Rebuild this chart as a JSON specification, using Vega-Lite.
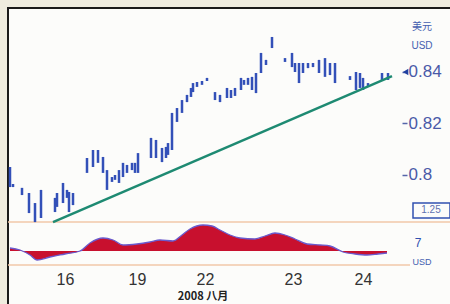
{
  "$schema": "https://vega.github.io/schema/vega-lite/v6.json",
  "width": 443,
  "height": 297,
  "autosize": {"type": "none"},
  "padding": {"left": 8, "top": 8, "right": 0, "bottom": 0},
  "background": "#efecdf",
  "config": {
    "view": {"fill": "#fcfcfa", "stroke": "#1a1a1a", "strokeWidth": 2},
    "font": "Liberation Sans"
  },
  "data": {"values": [{}]},
  "resolve": {"scale": {"y": "independent"}, "axis": {"y": "independent"}},
  "layer": [
    {
      "layer": [
        {
          "mark": {"type": "rule", "color": "#f2c8a8", "strokeWidth": 1.5},
          "encoding": {
            "x": {"datum": 0, "type": "quantitative"},
            "x2": {"datum": 221.5},
            "y": {"datum": 0.78175, "type": "quantitative"}
          }
        },
        {
          "mark": {"type": "rule", "color": "#f2c8a8", "strokeWidth": 1.5},
          "encoding": {
            "x": {"datum": 0, "type": "quantitative"},
            "x2": {"datum": 201},
            "y": {"datum": 0.76505, "type": "quantitative"}
          }
        },
        {
          "data": {"values": [
            {"t": 1, "hi": 0.8031, "lo": 0.7953},
            {"t": 2.5, "hi": 0.7965, "lo": 0.7953},
            {"t": 7, "hi": 0.7950, "lo": 0.7922},
            {"t": 10.5, "hi": 0.7930, "lo": 0.7852},
            {"t": 13.5, "hi": 0.7891, "lo": 0.7817},
            {"t": 16.5, "hi": 0.7942, "lo": 0.7833},
            {"t": 23.5, "hi": 0.7911, "lo": 0.7856},
            {"t": 24.5, "hi": 0.7930, "lo": 0.7876},
            {"t": 27.5, "hi": 0.7969, "lo": 0.7891},
            {"t": 29.5, "hi": 0.7942, "lo": 0.7911},
            {"t": 30.5, "hi": 0.7934, "lo": 0.7856},
            {"t": 32.5, "hi": 0.7930, "lo": 0.7883},
            {"t": 39.5, "hi": 0.8066, "lo": 0.8008},
            {"t": 42.5, "hi": 0.8097, "lo": 0.8031},
            {"t": 45, "hi": 0.8097, "lo": 0.8047},
            {"t": 47.5, "hi": 0.8070, "lo": 0.8008},
            {"t": 49.5, "hi": 0.8019, "lo": 0.7942},
            {"t": 52, "hi": 0.7992, "lo": 0.7973},
            {"t": 53.5, "hi": 0.8000, "lo": 0.7981},
            {"t": 55.5, "hi": 0.8019, "lo": 0.7969},
            {"t": 57.5, "hi": 0.8047, "lo": 0.7992},
            {"t": 59.5, "hi": 0.8039, "lo": 0.8008},
            {"t": 62, "hi": 0.8047, "lo": 0.8019},
            {"t": 63.5, "hi": 0.8047, "lo": 0.8008},
            {"t": 65, "hi": 0.8085, "lo": 0.8008},
            {"t": 71.5, "hi": 0.8144, "lo": 0.8066},
            {"t": 74, "hi": 0.8136, "lo": 0.8066},
            {"t": 77, "hi": 0.8105, "lo": 0.8050},
            {"t": 79, "hi": 0.8109, "lo": 0.8066},
            {"t": 80, "hi": 0.8124, "lo": 0.8078},
            {"t": 82, "hi": 0.8241, "lo": 0.8097},
            {"t": 84.5, "hi": 0.8260, "lo": 0.8206},
            {"t": 87, "hi": 0.8291, "lo": 0.8241},
            {"t": 89.5, "hi": 0.8311, "lo": 0.8283},
            {"t": 91.5, "hi": 0.8338, "lo": 0.8303},
            {"t": 92.5, "hi": 0.8357, "lo": 0.8322},
            {"t": 94.5, "hi": 0.8361, "lo": 0.8342},
            {"t": 97, "hi": 0.8365, "lo": 0.8350},
            {"t": 99.5, "hi": 0.8377, "lo": 0.8365},
            {"t": 103.5, "hi": 0.8322, "lo": 0.8291},
            {"t": 106, "hi": 0.8311, "lo": 0.8283},
            {"t": 109.5, "hi": 0.8338, "lo": 0.8299},
            {"t": 111.5, "hi": 0.8330, "lo": 0.8299},
            {"t": 113.5, "hi": 0.8338, "lo": 0.8307},
            {"t": 116.5, "hi": 0.8377, "lo": 0.8330},
            {"t": 118, "hi": 0.8369, "lo": 0.8350},
            {"t": 120, "hi": 0.8377, "lo": 0.8350},
            {"t": 122, "hi": 0.8381, "lo": 0.8330},
            {"t": 124, "hi": 0.8396, "lo": 0.8318},
            {"t": 126.5, "hi": 0.8474, "lo": 0.8396},
            {"t": 129, "hi": 0.8447, "lo": 0.8427},
            {"t": 132, "hi": 0.8536, "lo": 0.8493},
            {"t": 138.5, "hi": 0.8454, "lo": 0.8439},
            {"t": 142, "hi": 0.8474, "lo": 0.8419},
            {"t": 143.5, "hi": 0.8435, "lo": 0.8400},
            {"t": 145.5, "hi": 0.8435, "lo": 0.8357},
            {"t": 147.5, "hi": 0.8435, "lo": 0.8396},
            {"t": 150, "hi": 0.8435, "lo": 0.8415},
            {"t": 152.5, "hi": 0.8435, "lo": 0.8419},
            {"t": 155.5, "hi": 0.8447, "lo": 0.8396},
            {"t": 158.5, "hi": 0.8454, "lo": 0.8381},
            {"t": 161, "hi": 0.8435, "lo": 0.8388},
            {"t": 163.5, "hi": 0.8435, "lo": 0.8357},
            {"t": 171, "hi": 0.8384, "lo": 0.8369},
            {"t": 174, "hi": 0.8400, "lo": 0.8330},
            {"t": 176, "hi": 0.8396, "lo": 0.8338},
            {"t": 177.5, "hi": 0.8377, "lo": 0.8330},
            {"t": 180, "hi": 0.8357, "lo": 0.8342},
            {"t": 187, "hi": 0.8396, "lo": 0.8369},
            {"t": 190, "hi": 0.8396, "lo": 0.8369}
          ]},
          "mark": {"type": "rule", "color": "#3350b8", "strokeWidth": 2.5},
          "encoding": {
            "x": {
              "field": "t", "type": "quantitative",
              "scale": {"domain": [0, 221.5], "nice": false, "zero": false},
              "axis": {
                "orient": "bottom", "offset": -26, "values": [28.5, 64.5, 98.5, 142.5, 177.5],
                "labelExpr": "datum.value == 28.5 ? '16' : datum.value == 64.5 ? '19' : datum.value == 98.5 ? '22' : datum.value == 142.5 ? '23' : '24'",
                "domain": false, "ticks": false, "tickSize": 0, "grid": false,
                "labelPadding": 0, "labelBaseline": "middle", "labelFlush": false, "labelOverlap": false,
                "labelFontSize": 16, "labelColor": "#333333", "title": null
              }
            },
            "y": {
              "field": "hi", "type": "quantitative",
              "scale": {"domain": [0.7495, 0.86485], "nice": false, "zero": false},
              "axis": {
                "orient": "right", "offset": -49, "values": [0.8, 0.82, 0.84],
                "format": ".2~f", "domain": false, "grid": false,
                "ticks": true, "tickSize": 5, "tickWidth": 1.5, "tickColor": "#5566aa",
                "labelPadding": 1, "labelFontSize": 17, "labelColor": "#4a5aa8", "title": null
              }
            },
            "y2": {"field": "lo"}
          }
        },
        {
          "data": {"values": [{"t": 22.5, "p": 0.7817}, {"t": 192, "p": 0.8384}]},
          "mark": {"type": "line", "color": "#1e8a72", "strokeWidth": 2.5},
          "encoding": {
            "x": {"field": "t", "type": "quantitative"},
            "y": {"field": "p", "type": "quantitative"}
          }
        },
        {
          "mark": {"type": "point", "shape": "triangle-left", "filled": true, "color": "#2040a0", "size": 40, "opacity": 1},
          "encoding": {
            "x": {"datum": 198.8, "type": "quantitative"},
            "y": {"datum": 0.84, "type": "quantitative"}
          }
        },
        {
          "mark": {"type": "rect", "fill": "#fcfcfa", "stroke": "#3050b0", "strokeWidth": 1.5},
          "encoding": {
            "x": {"datum": 202.5, "type": "quantitative"},
            "x2": {"datum": 221},
            "y": {"datum": 0.78913, "type": "quantitative"},
            "y2": {"datum": 0.7833}
          }
        },
        {
          "mark": {"type": "text", "text": "1.25", "fontSize": 10, "color": "#6070b0", "align": "center", "baseline": "middle"},
          "encoding": {
            "x": {"datum": 211.5, "type": "quantitative"},
            "y": {"datum": 0.78621, "type": "quantitative"}
          }
        },
        {
          "mark": {"type": "text", "text": "美元", "fontSize": 10, "color": "#4560b0", "align": "center", "baseline": "middle", "font": "Noto Sans CJK SC"},
          "encoding": {
            "x": {"datum": 207, "type": "quantitative"},
            "y": {"datum": 0.85748, "type": "quantitative"}
          }
        },
        {
          "mark": {"type": "text", "text": "USD", "fontSize": 10, "color": "#4560b0", "align": "center", "baseline": "middle"},
          "encoding": {
            "x": {"datum": 207, "type": "quantitative"},
            "y": {"datum": 0.8501, "type": "quantitative"}
          }
        }
      ]
    },
    {
      "layer": [
        {
          "data": {"values": [
            {"t": 1, "v": 0.3}, {"t": 6, "v": 0.1}, {"t": 11, "v": -0.4}, {"t": 14.5, "v": -0.9},
            {"t": 21, "v": -0.6}, {"t": 28.5, "v": -0.3}, {"t": 36, "v": 0}, {"t": 41, "v": 0.8},
            {"t": 47.5, "v": 1.3}, {"t": 52.5, "v": 1.1}, {"t": 57.5, "v": 0.6}, {"t": 64.5, "v": 0.7},
            {"t": 71, "v": 0.9}, {"t": 76, "v": 1.1}, {"t": 82.5, "v": 1.0}, {"t": 87, "v": 1.6},
            {"t": 91, "v": 2.2}, {"t": 97.5, "v": 2.6}, {"t": 102, "v": 2.5}, {"t": 106, "v": 2.1},
            {"t": 111, "v": 1.6}, {"t": 116, "v": 1.3}, {"t": 123.5, "v": 1.2}, {"t": 128.5, "v": 1.5},
            {"t": 133.5, "v": 1.8}, {"t": 138.5, "v": 1.6}, {"t": 143.5, "v": 1.2}, {"t": 149.5, "v": 0.7},
            {"t": 156, "v": 0.6}, {"t": 161, "v": 0.5}, {"t": 167.5, "v": -0.1}, {"t": 173.5, "v": -0.3},
            {"t": 179.5, "v": -0.4}, {"t": 185, "v": -0.3}, {"t": 189.5, "v": -0.2}
          ]},
          "layer": [
            {
              "mark": {"type": "area", "color": "#c8102e", "interpolate": "monotone"},
              "encoding": {
                "x": {"field": "t", "type": "quantitative"},
                "y": {"field": "v", "type": "quantitative", "scale": {"domain": [-5.4, 24.3], "nice": false, "zero": false}, "axis": null},
                "y2": {"datum": 0}
              }
            },
            {
              "mark": {"type": "line", "color": "#6a5acd", "strokeWidth": 1.3, "interpolate": "monotone"},
              "encoding": {
                "x": {"field": "t", "type": "quantitative"},
                "y": {"field": "v", "type": "quantitative"}
              }
            }
          ]
        },
        {
          "mark": {"type": "text", "text": "7", "fontSize": 12, "color": "#3050b0", "align": "center", "baseline": "middle"},
          "encoding": {
            "x": {"datum": 205, "type": "quantitative"},
            "y": {"datum": 0.8, "type": "quantitative"}
          }
        },
        {
          "mark": {"type": "text", "text": "USD", "fontSize": 9, "color": "#4560b0", "align": "center", "baseline": "middle"},
          "encoding": {
            "x": {"datum": 207, "type": "quantitative"},
            "y": {"datum": -1.05, "type": "quantitative"}
          }
        },
        {
          "mark": {"type": "text", "text": "2008 八月", "fontSize": 11, "fontWeight": "bold", "color": "#222222", "align": "center", "baseline": "top", "font": "Noto Sans CJK SC"},
          "encoding": {
            "x": {"datum": 97.5, "type": "quantitative"},
            "y": {"datum": -3.95, "type": "quantitative"}
          }
        }
      ]
    }
  ]
}
